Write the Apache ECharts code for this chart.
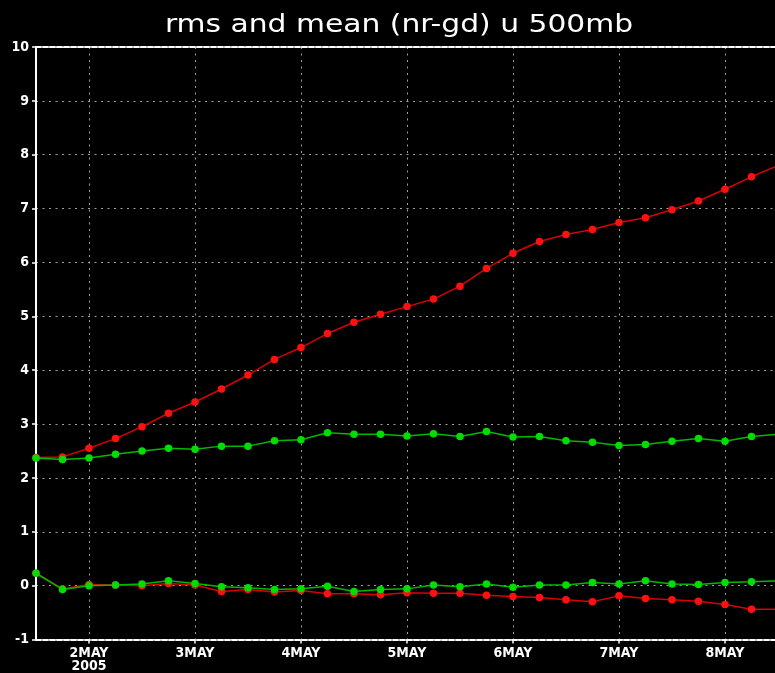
<!DOCTYPE html>
<html>
<head>
<meta charset="utf-8">
<script src="https://cdn.jsdelivr.net/npm/echarts@6/dist/echarts.min.js"></script>
<style>
  html, body { margin: 0; padding: 0; background: #000; }
  #chart { width: 775px; height: 673px; }
</style>
</head>
<body>
<div id="chart"></div>
<script>
// Time of each analysis (day of May 2005, fractional; 6-hourly from 1 May 12Z)
const times = [1.5, 1.75, 2, 2.25, 2.5, 2.75, 3, 3.25, 3.5, 3.75, 4, 4.25, 4.5, 4.75,
               5, 5.25, 5.5, 5.75, 6, 6.25, 6.5, 6.75, 7, 7.25, 7.5, 7.75, 8, 8.25, 8.5];

// Day tick positions and their labels
const dayTicks = [2, 3, 4, 5, 6, 7, 8];
const dayLabels = ['2MAY\n2005', '3MAY', '4MAY', '5MAY', '6MAY', '7MAY', '8MAY'];

// Red curves
const rmsRed = [2.38, 2.39, 2.55, 2.73, 2.95, 3.20, 3.41, 3.65, 3.91, 4.20, 4.42, 4.68, 4.89, 5.04,
                5.18, 5.32, 5.56, 5.89, 6.17, 6.39, 6.52, 6.61, 6.74, 6.83, 6.98, 7.14, 7.36, 7.59, 7.80];
const meanRed = [0.23, -0.06, 0.02, 0.01, 0.00, 0.04, 0.01, -0.11, -0.07, -0.12, -0.09, -0.15, -0.15, -0.17,
                 -0.13, -0.14, -0.14, -0.18, -0.20, -0.22, -0.26, -0.30, -0.19, -0.24, -0.26, -0.29, -0.35, -0.44, -0.44];

// Green curves
const rmsGreen = [2.37, 2.34, 2.37, 2.44, 2.50, 2.55, 2.53, 2.59, 2.59, 2.69, 2.71, 2.84, 2.81, 2.81,
                  2.78, 2.82, 2.77, 2.86, 2.76, 2.77, 2.69, 2.66, 2.60, 2.62, 2.68, 2.73, 2.68, 2.77, 2.81];
const meanGreen = [0.23, -0.07, 0.00, 0.01, 0.03, 0.09, 0.04, -0.02, -0.04, -0.07, -0.06, -0.01, -0.11, -0.07,
                   -0.06, 0.01, -0.02, 0.03, -0.03, 0.01, 0.01, 0.06, 0.03, 0.09, 0.03, 0.02, 0.06, 0.07, 0.09];

const titleText = 'rms and mean (nr-gd) u 500mb';

const xMin = 1.5, xMax = 8.472;
const labelFont = '"Liberation Sans Narrow", "DejaVu Sans Condensed", sans-serif';

function pairs(arr) { return times.map((t, i) => [t, arr[i]]); }

function lineSeries(name, arr, lineColor, markColor) {
  return {
    name: name,
    type: 'line',
    data: pairs(arr),
    xAxisIndex: 0,
    yAxisIndex: 0,
    symbol: 'circle',
    symbolSize: 7.5,
    showAllSymbol: true,
    clip: true,
    lineStyle: { color: lineColor, width: 1.5 },
    itemStyle: { color: markColor },
    emphasis: { disabled: true }
  };
}

const chart = echarts.init(document.getElementById('chart'));
chart.setOption({
  backgroundColor: '#000',
  animation: false,
  graphic: [{
    type: 'text',
    x: 399,
    y: 25,
    scaleX: 1.19,
    silent: true,
    style: {
      text: titleText,
      fill: '#ffffff',
      font: '25px "DejaVu Sans", sans-serif',
      align: 'center',
      verticalAlign: 'middle',
      textAlign: 'center',
      textVerticalAlign: 'middle'
    }
  }],
  grid: { left: 36, right: 0, top: 47, bottom: 30, containLabel: false },
  xAxis: [{
    type: 'value',
    position: 'bottom',
    min: xMin,
    max: xMax,
    axisLine: { show: true, onZero: false, lineStyle: { color: '#ffffff', width: 2, type: [5, 2] } },
    axisTick: { show: true, customValues: dayTicks, length: 4, inside: false, lineStyle: { color: '#ffffff', width: 1.5 } },
    axisLabel: {
      customValues: dayTicks,
      color: '#ffffff',
      fontFamily: labelFont,
      fontWeight: 'bold',
      fontSize: 14,
      lineHeight: 13,
      margin: 7,
      formatter: function (v) {
        const i = dayTicks.indexOf(Math.round(v));
        return i >= 0 ? dayLabels[i] : '';
      }
    },
    splitLine: { show: true, lineStyle: { color: '#a0a0a0', width: 1, type: [2, 4.5] } }
  }, {
    type: 'value',
    position: 'top',
    min: xMin,
    max: xMax,
    axisLine: { show: true, onZero: false, lineStyle: { color: '#ffffff', width: 2, type: [5, 2] } },
    axisTick: { show: false },
    axisLabel: { show: false },
    splitLine: { show: false }
  }],
  yAxis: {
    type: 'value',
    min: -1,
    max: 10,
    interval: 1,
    axisLine: { show: true, onZero: false, lineStyle: { color: '#ffffff', width: 2 } },
    axisTick: { show: true, length: 4, lineStyle: { color: '#ffffff', width: 1.5 } },
    axisLabel: {
      color: '#ffffff',
      fontFamily: labelFont,
      fontWeight: 'bold',
      fontSize: 14,
      margin: 7
    },
    splitLine: { show: true, lineStyle: { color: '#a0a0a0', width: 1, type: [2, 4.5] } }
  },
  series: [
    lineSeries('rms red', rmsRed, '#d80000', '#ff1010'),
    lineSeries('mean red', meanRed, '#d80000', '#ff1010'),
    lineSeries('rms green', rmsGreen, '#00b800', '#00dd00'),
    lineSeries('mean green', meanGreen, '#00b800', '#00dd00')
  ]
});
</script>
</body>
</html>
